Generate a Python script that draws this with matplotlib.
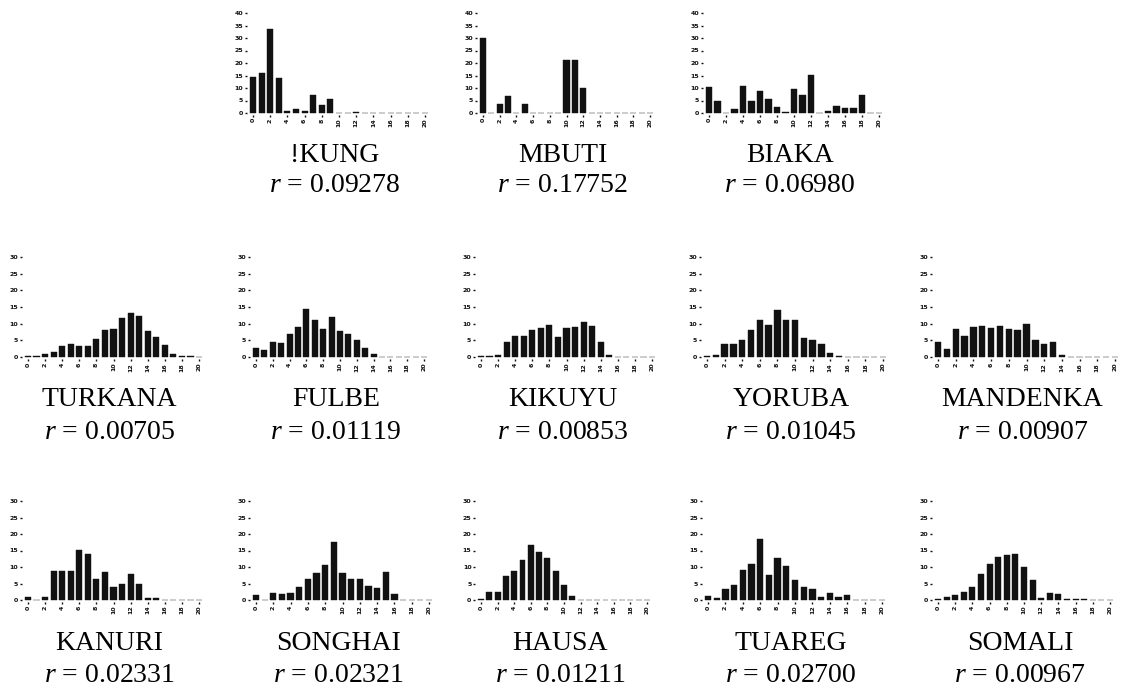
import matplotlib
matplotlib.use("Agg")
import matplotlib.pyplot as plt
import numpy as np

plt.rcParams['mathtext.fontset'] = 'custom'
plt.rcParams['mathtext.it'] = 'Liberation Serif:italic'
plt.rcParams['mathtext.rm'] = 'Liberation Serif'

bins = list(range(21))
x_ticks = [0, 2, 4, 6, 8, 10, 12, 14, 16, 18, 20]
y_ticks_top = [0, 5, 10, 15, 20, 25, 30, 35, 40]
y_ticks_low = [0, 5, 10, 15, 20, 25, 30]

names = ["!KUNG", "MBUTI", "BIAKA",
         "TURKANA", "FULBE", "KIKUYU", "YORUBA", "MANDENKA",
         "KANURI", "SONGHAI", "HAUSA", "TUAREG", "SOMALI"]
r_values = ["0.09278", "0.17752", "0.06980",
            "0.00705", "0.01119", "0.00853", "0.01045", "0.00907",
            "0.02331", "0.02321", "0.01211", "0.02700", "0.00967"]

kung = [14.4, 16, 33.6, 14, 0.7, 1.5, 1, 7.3, 3.3, 5.7, 0, 0, 0.3, 0, 0, 0, 0, 0, 0, 0, 0]
mbuti = [30, 0, 3.8, 7, 0, 3.8, 0, 0, 0, 0, 21.4, 21.4, 10, 0, 0, 0, 0, 0, 0, 0, 0]
biaka = [10.4, 4.9, 0, 1.8, 10.8, 4.9, 9, 5.7, 2.5, 0.5, 9.7, 7.1, 15.4, 0, 0.7, 2.9, 2.2, 2.2, 7.1, 0, 0]
turkana = [0.3, 0.3, 0.8, 1.5, 3.2, 3.9, 3.4, 3.2, 5.4, 8, 8.3, 11.6, 13.2, 12.4, 7.8, 6.1, 3.5, 0.8, 0.3, 0.2, 0.1]
fulbe = [2.7, 2, 4.5, 4.2, 7, 9, 14.3, 11, 8.3, 12, 7.8, 7, 5, 2.8, 0.8, 0, 0, 0, 0, 0, 0]
kikuyu = [0.3, 0.3, 0.6, 4.6, 6.3, 6.4, 8.2, 8.8, 9.5, 6, 8.6, 9.1, 10.6, 9.2, 4.4, 0.7, 0, 0, 0, 0, 0]
yoruba = [0.3, 0.5, 3.9, 3.8, 5, 8.2, 11.2, 9.6, 14.2, 11.2, 11.2, 5.8, 5.2, 3.9, 1.1, 0.3, 0, 0, 0, 0, 0]
mandenka = [4.5, 2.3, 8.3, 6.3, 9, 9.4, 8.8, 9.4, 8.3, 8, 9.8, 5, 4, 4.5, 0.6, 0.1, 0, 0, 0, 0, 0]
kanuri = [1, 0, 0.8, 8.8, 8.8, 8.8, 15.1, 13.9, 6.3, 8.6, 3.8, 5, 8, 4.7, 0.5, 0.5, 0, 0, 0, 0, 0]
songhai = [1.6, 0, 2, 1.8, 2, 4, 6.3, 8.3, 10.6, 17.5, 8.3, 6.4, 6.3, 4.1, 3.7, 8.5, 1.8, 0, 0, 0, 0]
hausa = [0.3, 2.4, 2.4, 7.3, 8.8, 12, 16.8, 14.6, 12.8, 8.8, 4.5, 1.3, 0, 0, 0, 0, 0, 0, 0, 0, 0]
tuareg = [1.2, 0.6, 3.2, 4.4, 9.2, 10.8, 18.5, 7.5, 12.8, 10.2, 6, 3.9, 3.2, 0.9, 2.2, 1, 1.5, 0, 0, 0, 0]
somali = [0.3, 1, 1.5, 2.5, 4, 8, 11, 13, 13.5, 14, 10, 6, 0.5, 2, 1.8, 0.2, 0.3, 0.3, 0, 0, 0]

series = [kung, mbuti, biaka, turkana, fulbe, kikuyu, yoruba, mandenka,
          kanuri, songhai, hausa, tuareg, somali]

W, H = 1127, 689
fig = plt.figure(figsize=(W / 100, H / 100), dpi=100)

# layout (pixels): x of 0 and 20 per panel, row baseline and top-tick pixel
xpix = [(253, 425), (483, 650), (709, 879),
        (28, 199), (256, 424), (481, 652), (707, 883), (938, 1115),
        (28, 199), (256, 429), (481, 647), (708, 882), (938, 1110)]
rows = [0, 0, 0, 1, 1, 1, 1, 1, 2, 2, 2, 2, 2]
row_y = [(113, 13, 40), (357, 257, 30), (600, 501, 30)]
name_y = [155, 400, 643]
r_y = [186, 433, 675]

xlo, xhi = -0.7, 20.7
ylo_frac = 0.6

for i, vals in enumerate(series):
    x0, x20 = xpix[i]
    ppu = (x20 - x0) / 20.0
    left = x0 + xlo * ppu
    width = (xhi - xlo) * ppu
    y0, ytop, ymax = row_y[rows[i]]
    ppy = (y0 - ytop) / ymax
    ylo = -ylo_frac
    yhi = ymax + 1.5
    bottom_px = y0 - ylo * ppy  # ylo negative -> below baseline
    top_px = y0 - yhi * ppy
    ax = fig.add_axes([left / W, 1 - bottom_px / H, width / W, (bottom_px - top_px) / H])
    ax.bar(bins, vals, width=0.72, color='#111111', edgecolor='#111111', linewidth=0.3)
    ax.set_xlim(xlo, xhi)
    ax.set_ylim(ylo, yhi)
    ax.set_xticks(x_ticks)
    ax.set_xticklabels([str(t) for t in x_ticks], rotation=90)
    ax.set_yticks(y_ticks_top if rows[i] == 0 else y_ticks_low)
    for s in ax.spines.values():
        s.set_visible(False)
    ax.tick_params(axis='both', length=1.2, width=1.0, pad=1.5, labelsize=4.5,
                   colors='#111111')
    for lab in ax.get_xticklabels() + ax.get_yticklabels():
        lab.set_fontweight('bold')
    ax.patch.set_alpha(0)

    cx = (x0 + x20) / 2.0 - 4
    fig.text(cx / W, 1 - name_y[rows[i]] / H, names[i], ha='center', va='center',
             family='Liberation Serif', fontsize=20)
    fig.text(cx / W, 1 - r_y[rows[i]] / H, r'$r$ = ' + r_values[i], ha='center', va='center',
             family='Liberation Serif', fontsize=20)

fig.savefig("out.png", dpi=100)
